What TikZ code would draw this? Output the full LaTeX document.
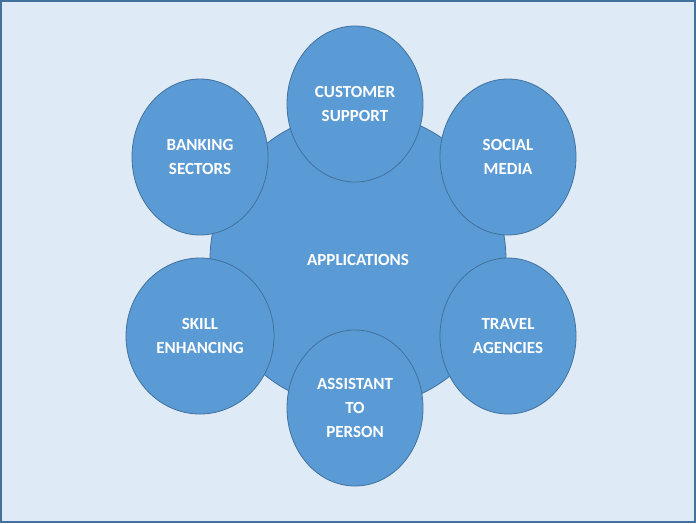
\documentclass[tikz,border=0pt]{standalone}
\usepackage{fontspec}
\setmainfont{Carlito}
\usetikzlibrary{shapes.geometric, positioning}
\definecolor{pagebg}{HTML}{DEEAF6}
\definecolor{framecol}{HTML}{41719C}
\definecolor{bubblefill}{HTML}{5B9BD5}
\definecolor{bubbleline}{HTML}{41719C}
\tikzstyle{bubble}=[ellipse, draw=bubbleline, fill=bubblefill, line width=0.8pt, inner sep=0pt, minimum width=136pt, minimum height=156pt, text=white, align=center]
\tikzstyle{every node}=[font=\fontsize{17pt}{24pt}\selectfont\bfseries]

\begin{document}
\begin{tikzpicture}[x=1pt, y=-1pt]
    \useasboundingbox (0,0) rectangle (696,523);
    \draw[draw=framecol, fill=pagebg, line width=2pt] (1,1) rectangle (695,522);
    % centre circle
    \node[bubble, circle, minimum size=296pt] (app) at (358,260) {APPLICATIONS};
    % surrounding bubbles
    \node[bubble] (cust) at (355,104) {CUSTOMER\\SUPPORT};
    \node[bubble] (bank) at (200,157) {BANKING\\SECTORS};
    \node[bubble] (social) at (508,157) {SOCIAL\\MEDIA};
    \node[bubble, minimum width=148pt] (skill) at (200,336) {SKILL\\ENHANCING};
    \node[bubble] (travel) at (508,336) {TRAVEL\\AGENCIES};
    \node[bubble] (assist) at (355,408) {ASSISTANT\\TO\\PERSON};
\end{tikzpicture}
\end{document}
